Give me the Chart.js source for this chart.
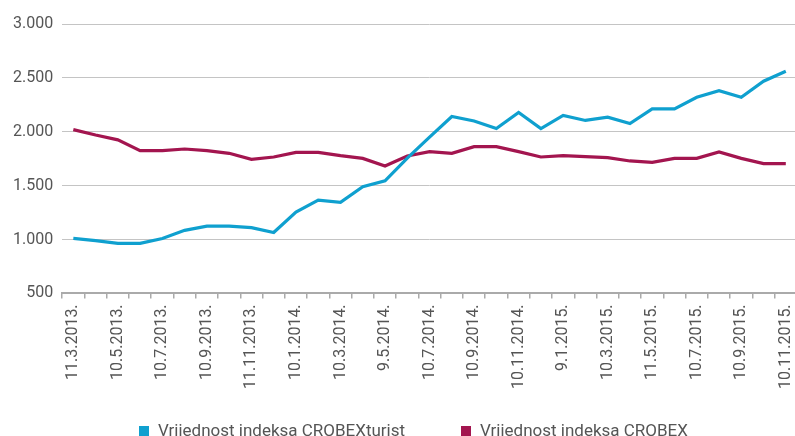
<!DOCTYPE html>
<html>
<head>
<meta charset="utf-8">
<script src="https://cdn.jsdelivr.net/npm/chart.js@4"></script>
<style>
    html, body { margin: 0; padding: 0; background: #fff; overflow: hidden; }
    #wrap { position: relative; width: 811px; height: 436px; }
    #legend { position: absolute; top: 420px; left: 0; width: 795px; height: 20px;
        font: 17px Roboto, "Liberation Sans", sans-serif; color: #555; }
    #legend .item { position: absolute; top: 0; line-height: 20px; white-space: nowrap; }
    #legend .box { display: inline-block; width: 10px; height: 10px; margin-right: 9px;
        vertical-align: -0px; }
</style>
</head>
<body>
<div id="wrap">
    <canvas id="chart"></canvas>
    <div id="legend"></div>
</div>
<script>
// tick labels shown on the x axis (every second month)
const tickLabels = ['11.3.2013.', '10.5.2013.', '10.7.2013.', '10.9.2013.', '11.11.2013.',
    '10.1.2014.', '10.3.2014.', '9.5.2014.', '10.7.2014.', '10.9.2014.', '10.11.2014.',
    '9.1.2015.', '10.3.2015.', '11.5.2015.', '10.7.2015.', '10.9.2015.', '10.11.2015.'];

const turistValues = [1010, 990, 965, 965, 1010, 1085, 1125, 1125, 1110, 1065,
    1255, 1365, 1345, 1490, 1545, 1755, 1950, 2142, 2100, 2030,
    2180, 2030, 2152, 2105, 2136, 2077, 2213, 2213, 2320, 2382,
    2320, 2469, 2562];

const crobexValues = [2020, 1970, 1925, 1825, 1825, 1840, 1825, 1800, 1744, 1766,
    1809, 1809, 1778, 1753, 1682, 1775, 1815, 1800, 1862, 1862,
    1816, 1766, 1778, 1769, 1760, 1729, 1716, 1753, 1753, 1812,
    1753, 1704, 1704];

const seriesNames = ['Vrijednost indeksa CROBEXturist', 'Vrijednost indeksa CROBEX'];
const seriesColors = ['#0fa0cf', '#a3154f'];

// monthly categories, only every second one carries a label
const categories = [];
tickLabels.forEach((l, i) => {
    categories.push(l);
    if (i < tickLabels.length - 1) categories.push('');
});

const fontFamily = 'Roboto, "Liberation Sans", sans-serif';
const textColor = '#555';

const chart = new Chart(document.getElementById('chart'), {
    type: 'line',
    data: {
        labels: categories,
        datasets: [turistValues, crobexValues].map((values, i) => ({
            label: seriesNames[i],
            data: values,
            borderColor: seriesColors[i],
            backgroundColor: seriesColors[i],
            borderWidth: 3.2,
            pointRadius: 0,
            tension: 0
        }))
    },
    options: {
        responsive: true,
        maintainAspectRatio: false,
        animation: false,
        layout: { padding: { top: 24, left: 4, right: 0, bottom: 41 } },
        scales: {
            x: {
                offset: true,
                grid: {
                    offset: true,
                    drawOnChartArea: false,
                    drawTicks: true,
                    tickLength: 5,
                    color: '#aaa',
                    lineWidth: 1.5
                },
                border: { color: '#aaa', width: 2 },
                ticks: {
                    autoSkip: false,
                    maxRotation: 90,
                    minRotation: 90,
                    padding: 6,
                    color: textColor,
                    font: { family: fontFamily, size: 16 }
                }
            },
            y: {
                min: 500,
                max: 3000,
                grid: { color: '#c4c4c4', lineWidth: 1, drawTicks: false },
                border: { display: false },
                ticks: {
                    stepSize: 500,
                    padding: 9,
                    color: textColor,
                    font: { family: fontFamily, size: 16 },
                    callback: v => v.toLocaleString('de-DE')
                }
            }
        },
        plugins: {
            legend: { display: false },
            tooltip: { enabled: false }
        }
    }
});

// legend below the chart, built from the datasets
const legendLeft = [139, 461];
const legend = document.getElementById('legend');
chart.data.datasets.forEach((ds, i) => {
    const item = document.createElement('span');
    item.className = 'item';
    item.style.left = legendLeft[i] + 'px';
    const box = document.createElement('span');
    box.className = 'box';
    box.style.background = ds.borderColor;
    item.appendChild(box);
    item.appendChild(document.createTextNode(ds.label));
    legend.appendChild(item);
});
</script>
</body>
</html>
